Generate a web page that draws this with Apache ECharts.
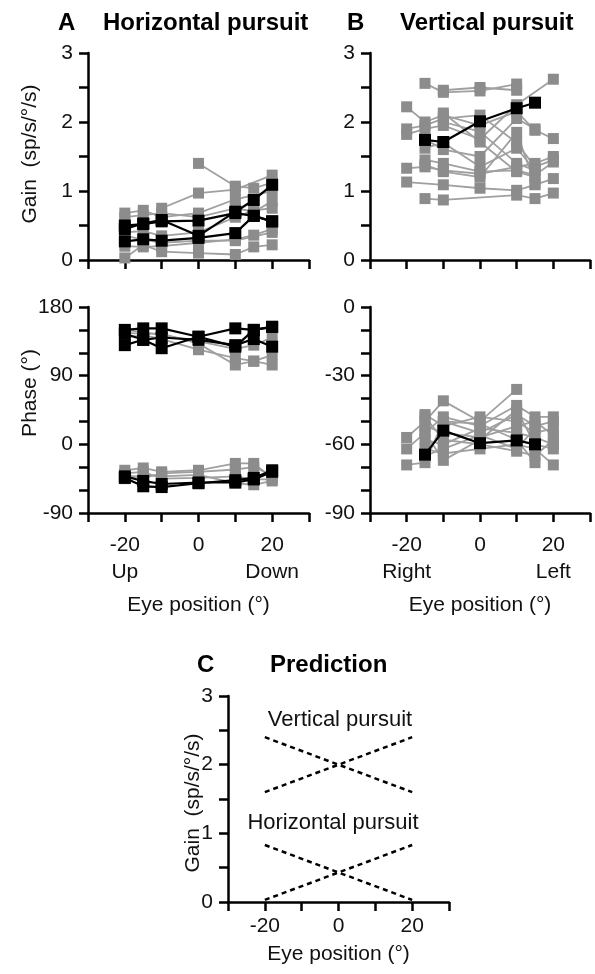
<!DOCTYPE html>
<html><head><meta charset="utf-8">
<script src="https://cdn.jsdelivr.net/npm/echarts@6/dist/echarts.min.js"></script>
<style>html,body{margin:0;padding:0;background:#fff}#c{width:595px;height:974px}</style>
</head><body><div id="c"></div>
<script>
// ---- data ----
const eyePos = [-20, -15, -10, 0, 10, 15, 20];

// Panel A gain (horizontal pursuit)
const hGainGray = [
  [null, null, null, 1.40, 1.07, 1.04, 1.12],
  [null, null, 0.75, 0.97, 1.02, null, 1.23],
  [0.68, 0.72, 0.62, 0.68, 0.88, null, 1.00],
  [0.62, 0.65, 0.68, 0.62, 0.75, 0.70, 0.85],
  [0.40, 0.42, 0.35, 0.40, 0.62, 0.72, 0.75],
  [0.20, 0.19, 0.20, 0.25, 0.30, 0.36, 0.45],
  [0.03, 0.22, 0.12, 0.10, 0.08, 0.19, 0.22],
  [0.35, 0.30, 0.25, 0.28, 0.28, null, 0.40]
];
const hGainBlack = [
  [0.50, 0.52, 0.56, 0.57, 0.68, 0.64, 0.56],
  [0.45, 0.53, 0.58, 0.35, 0.70, 0.87, 1.09],
  [0.27, 0.30, 0.28, 0.32, 0.39, 0.64, 0.56]
];

// Panel B gain (vertical pursuit)
const vGainGray = [
  [null, 2.56, 2.43, 2.45, 2.55, null, null],
  [null, null, 2.46, 2.50, 2.46, null, null],
  [2.22, 2.00, 2.10, 1.95, 2.15, 1.88, 1.76],
  [1.90, 1.95, 2.05, 2.10, 1.70, 1.35, 1.45],
  [1.82, 1.90, 1.95, 1.75, 2.25, null, 2.62],
  [1.33, 1.35, 1.30, 1.25, 1.35, 1.40, 1.50],
  [1.13, null, 1.09, 1.04, 1.01, 1.09, 1.18],
  [null, 0.89, 0.87, null, 0.94, 0.89, 0.97],
  [null, 1.62, 1.70, 1.35, 1.62, 1.30, null],
  [null, 1.45, 1.40, 1.28, 1.30, 1.23, 1.42],
  [null, 1.38, 1.28, 1.20, 1.85, 1.10, null],
  [null, null, 2.00, 1.86, 1.40, 1.30, null],
  [null, 1.75, 1.60, 1.50, 2.05, 1.90, null],
  [null, null, 2.13, 1.71, 1.28, 1.20, null]
];
const vGainBlack = [
  [null, 1.74, 1.71, 2.01, 2.20, 2.28, null]
];

// Panel A phase
const hPhaseGray = [
  [140, 143, 138, 124, 113, 109, 104],
  [146, 145, 145, 132, 104, 109, 117],
  [150, 147, 143, 135, 125, 130, 140],
  [-34, -31, -36, -34, -25, -25, -44],
  [-40, -44, -38, -36, -33, -30, -40],
  [-45, -40, -42, -40, -51, -53, -48],
  [-38, -36, -45, -44, -42, -46, -46]
];
const hPhaseBlack = [
  [150, 152, 152, 141, 152, 150, 154],
  [145, 137, 140, 137, 130, 138, 128],
  [130, 137, 126, 141, 128, 150, 154],
  [-44, -55, -56, -51, -47, -44, -34],
  [-42, -48, -52, -50, -50, -46, -36]
];

// Panel B phase
const vPhaseGray = [
  [-57, -50, -41, -50, -36, null, null],
  [-62, -55, -48, -52, -43, -48, -48],
  [-69, -68, -50, -55, -47, -52, -50],
  [null, -47, -52, -48, -50, -55, -53],
  [null, -52, -55, -57, -52, -50, -56],
  [null, -58, -60, -53, -55, -57, -60],
  [null, -62, -64, -62, -60, -62, -69],
  [null, -48, -58, -60, -63, -65, -58],
  [null, -55, -67, -58, -45, -60, -62],
  [null, null, -50, -51, -58, -68, null],
  [null, -65, -62, -56, -62, -53, null]
];
const vPhaseBlack = [
  [null, -64.5, -54, -59.5, -58.3, -60, null]
];

// Panel C prediction
const predX = [-20, 20];
const predVertA = [2.4, 1.6];
const predVertB = [1.6, 2.4];
const predHorA = [0.83, 0.03];
const predHorB = [0.03, 0.83];

const xLabelsA = {'-20': '-20\nUp', '0': '0', '20': '20\nDown'};
const xLabelsB = {'-20': '-20\nRight', '0': '0', '20': '20\nLeft'};
const xLabelsC = {'-20': '-20', '0': '0', '20': '20'};

// ---- chart ----
const FONT = "'Liberation Sans', Arial, Helvetica, sans-serif";
const chart = echarts.init(document.getElementById('c'), null, {renderer: 'canvas'});

const grids = [
  {left: 88, top: 53, width: 221, height: 207},
  {left: 370, top: 53, width: 220, height: 207},
  {left: 88, top: 307, width: 221, height: 206},
  {left: 370, top: 307, width: 220, height: 206},
  {left: 228, top: 696, width: 221, height: 206}
];

function xAx(gi, labels, margin, name, nameGap) {
  return {
    type: 'value', gridIndex: gi, min: -30, max: 30, interval: 10,
    axisLine: {onZero: false, lineStyle: {color: '#000', width: 2.5}},
    axisTick: {show: true, length: 9, lineStyle: {color: '#000', width: 2.5}},
    splitLine: {show: false},
    axisLabel: {show: !!labels, margin: margin, fontSize: 21, color: '#111', fontFamily: FONT, lineHeight: 27,
      formatter: v => labels ? (labels[String(v)] || '') : ''},
    name: name || '', nameLocation: 'middle', nameGap: nameGap || 0,
    nameTextStyle: {fontSize: 21, color: '#111', fontFamily: FONT}
  };
}
function yAx(gi, min, max, interval, labelEvery) {
  return {
    type: 'value', gridIndex: gi, min: min, max: max, interval: interval,
    axisLine: {show: true, onZero: false, lineStyle: {color: '#000', width: 2.5}},
    axisTick: {show: true, length: 9, lineStyle: {color: '#000', width: 2.5}},
    splitLine: {show: false},
    axisLabel: {margin: 15, fontSize: 21, color: '#111', fontFamily: FONT,
      formatter: v => (Math.abs(Math.round(v / labelEvery) * labelEvery - v) < 1e-6) ? String(Math.round(v)) : ''}
  };
}

function mk(rows, gi, color, lineColor, lw, ss, z) {
  return rows.map(r => ({
    type: 'line', xAxisIndex: gi, yAxisIndex: gi, z: z,
    data: eyePos.map((x, i) => [x, r[i]]).filter(p => p[1] != null),
    symbol: 'rect', symbolSize: ss, showAllSymbol: true,
    itemStyle: {color: color}, lineStyle: {color: lineColor, width: lw},
    animation: false, silent: true
  }));
}
function pred(ys) {
  return {
    type: 'line', xAxisIndex: 4, yAxisIndex: 4, symbol: 'none', animation: false,
    data: predX.map((x, i) => [x, ys[i]]),
    lineStyle: {color: '#000', width: 2.5, type: [5, 4]}
  };
}

const GRAY = '#8c8c8c', GRAYL = '#a0a0a0';
const series = [].concat(
  mk(hGainGray, 0, GRAY, GRAYL, 1.8, 11, 2),
  mk(hGainBlack, 0, '#000', '#000', 2.2, 12, 3),
  mk(vGainGray, 1, GRAY, GRAYL, 1.8, 11, 2),
  mk(vGainBlack, 1, '#000', '#000', 2.2, 12, 3),
  mk(hPhaseGray, 2, GRAY, GRAYL, 1.8, 11, 2),
  mk(hPhaseBlack, 2, '#000', '#000', 2.2, 12, 3),
  mk(vPhaseGray, 3, GRAY, GRAYL, 1.8, 11, 2),
  mk(vPhaseBlack, 3, '#000', '#000', 2.2, 12, 3),
  [pred(predVertA), pred(predVertB), pred(predHorA), pred(predHorB)]
);

function txt(s, x, y, opts) {
  return Object.assign({
    type: 'text', x: x, y: y,
    style: Object.assign({text: s, fill: '#111', font: '21px ' + FONT, textAlign: 'left', textVerticalAlign: 'middle'}, opts || {})
  });
}
function rtxt(s, x, y) {
  return {type: 'text', x: x, y: y, rotation: Math.PI / 2,
    style: {text: s, fill: '#111', font: '21px ' + FONT, textAlign: 'center', textVerticalAlign: 'middle'}};
}
const B = {font: 'bold 24px ' + FONT, fill: '#000'};

chart.setOption({
  animation: false,
  grid: grids,
  xAxis: [
    xAx(0, null, 0),
    xAx(1, null, 0),
    xAx(2, xLabelsA, 19, 'Eye position (°)', 82),
    xAx(3, xLabelsB, 19, 'Eye position (°)', 82),
    xAx(4, xLabelsC, 11, 'Eye position (°)', 42)
  ],
  yAxis: [
    yAx(0, 0, 3, 0.5, 1),
    yAx(1, 0, 3, 0.5, 1),
    yAx(2, -90, 180, 30, 90),
    yAx(3, -90, 0, 10, 30),
    yAx(4, 0, 3, 0.5, 1)
  ],
  series: series,
  graphic: [
    txt('A', 58, 23, B),
    txt('Horizontal pursuit', 103, 23, B),
    txt('B', 347, 23, B),
    txt('Vertical pursuit', 400, 23, B),
    txt('C', 197, 665, B),
    txt('Prediction', 270, 665, B),
    rtxt('Gain  (sp/s/°/s)', 30, 154),
    rtxt('Phase (°)', 30, 393),
    rtxt('Gain  (sp/s/°/s)', 193, 803),
    txt('Vertical pursuit', 340, 720, {textAlign: 'center', font: '22px ' + FONT}),
    txt('Horizontal pursuit', 333, 823, {textAlign: 'center', font: '22px ' + FONT})
  ]
});
</script></body></html>
